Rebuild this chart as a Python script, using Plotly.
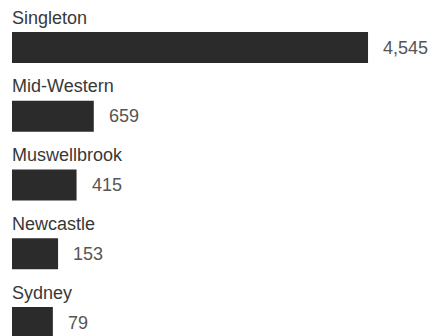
import plotly.graph_objects as go

categories = ["Singleton", "Mid-Western", "Muswellbrook", "Newcastle", "Sydney"]
values = [4545, 659, 415, 153, 79]
value_labels = ["4,545", "659", "415", "153", "79"]

BASE = -500
BAR_COLOR = "#2b2b2b"
FONT = "Liberation Sans, Arial, sans-serif"

# bars span from BASE to each value
lengths = [v - BASE for v in values]

fig = go.Figure(
    go.Bar(
        x=lengths,
        y=categories,
        base=BASE,
        orientation="h",
        marker=dict(color=BAR_COLOR, line=dict(width=0)),
        width=0.45,
        hoverinfo="skip",
    )
)

annotations = []
for cat, val, lab in zip(categories, values, value_labels):
    annotations.append(dict(
        x=BASE, y=cat, xref="x", yref="y", text=cat, showarrow=False,
        xanchor="left", yanchor="middle", yshift=30, xshift=-2,
        font=dict(family=FONT, size=18, color="#383838"),
    ))
    annotations.append(dict(
        x=val, y=cat, xref="x", yref="y", text=lab, showarrow=False,
        xanchor="left", yanchor="middle", xshift=13,
        font=dict(family=FONT, size=18, color="#555555"),
    ))

fig.update_layout(
    width=438, height=328,
    margin=dict(l=0, r=0, t=0, b=0),
    paper_bgcolor="white", plot_bgcolor="white",
    showlegend=False,
    annotations=annotations,
    xaxis=dict(range=[-556.7, 5649.9], visible=False, fixedrange=True),
    yaxis=dict(range=[4.196, -0.5745], visible=False, fixedrange=True),
)

fig.write_html("out.html")
